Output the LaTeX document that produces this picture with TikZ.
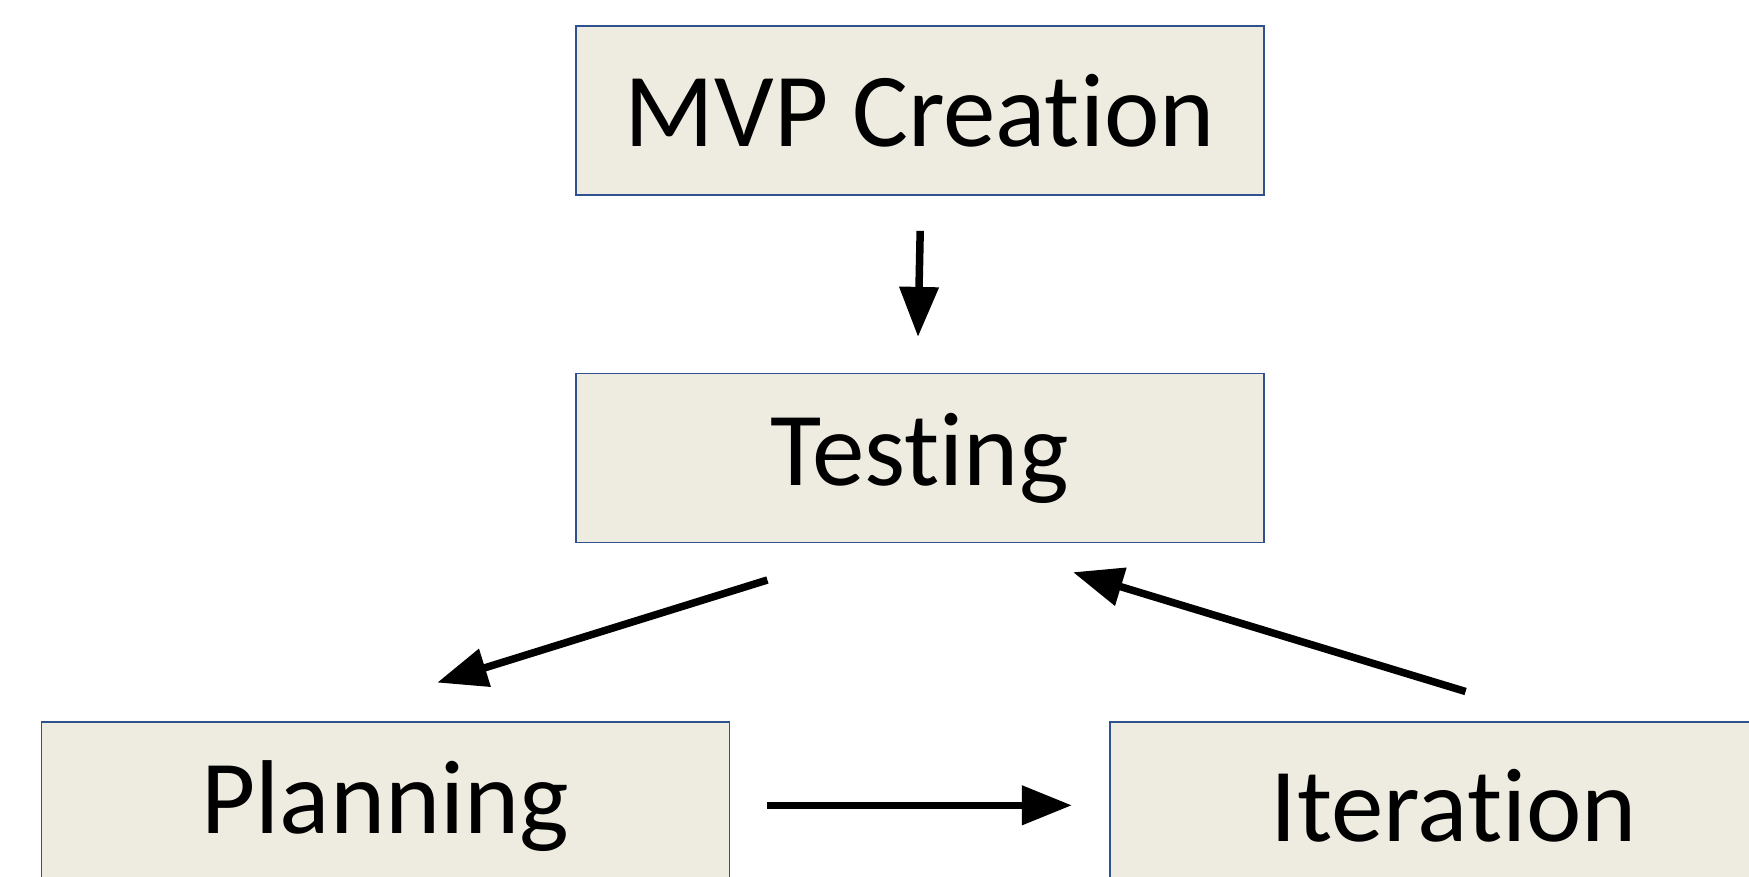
\documentclass[tikz,border=0pt]{standalone}
\usepackage{fontspec}
\setmainfont{Carlito}[Ligatures=NoCommon]
\usetikzlibrary{arrows.meta}
\definecolor{boxfill}{HTML}{EEECE1}
\definecolor{boxline}{HTML}{2F528F}
\tikzset{
  stagebox/.style={draw=boxline, fill=boxfill, line width=1.6pt, minimum width=688pt, minimum height=169pt, inner sep=0pt, font=\fontsize{105}{120}\selectfont},
  flowarrow/.style={line width=7.5pt, -{Triangle[length=50pt,width=38pt]}}
}
\begin{document}
\begin{tikzpicture}[x=1pt,y=-1pt]
\useasboundingbox (0,0) rectangle (1749,876);
\clip (0,0) rectangle (1749,876);
\fill[white] (0,0) rectangle (1749,876);
\node[stagebox] (mvp) at (919.7,110.5) {MVP Creation};
\node[stagebox] (test) at (919.7,457.9) {Testing};
\node[stagebox] (plan) at (385.4,806.2) {Planning};
\node[stagebox] (iter) at (1453.8,806.2) {Iteration};
\coordinate (a1s) at (920.2,230.9);
\coordinate (a1e) at (918.0,336.9);
\coordinate (a2s) at (767.4,580.0);
\coordinate (a2e) at (437.2,682.6);
\coordinate (a3s) at (1465.6,691.5);
\coordinate (a3e) at (1073.0,572.2);
\coordinate (a4s) at (767.4,805.3);
\coordinate (a4e) at (1071.9,805.3);
\draw[flowarrow] (a1s) -- (a1e);
\draw[flowarrow] (a2s) -- (a2e);
\draw[flowarrow] (a3s) -- (a3e);
\draw[flowarrow] (a4s) -- (a4e);
\end{tikzpicture}
\end{document}
